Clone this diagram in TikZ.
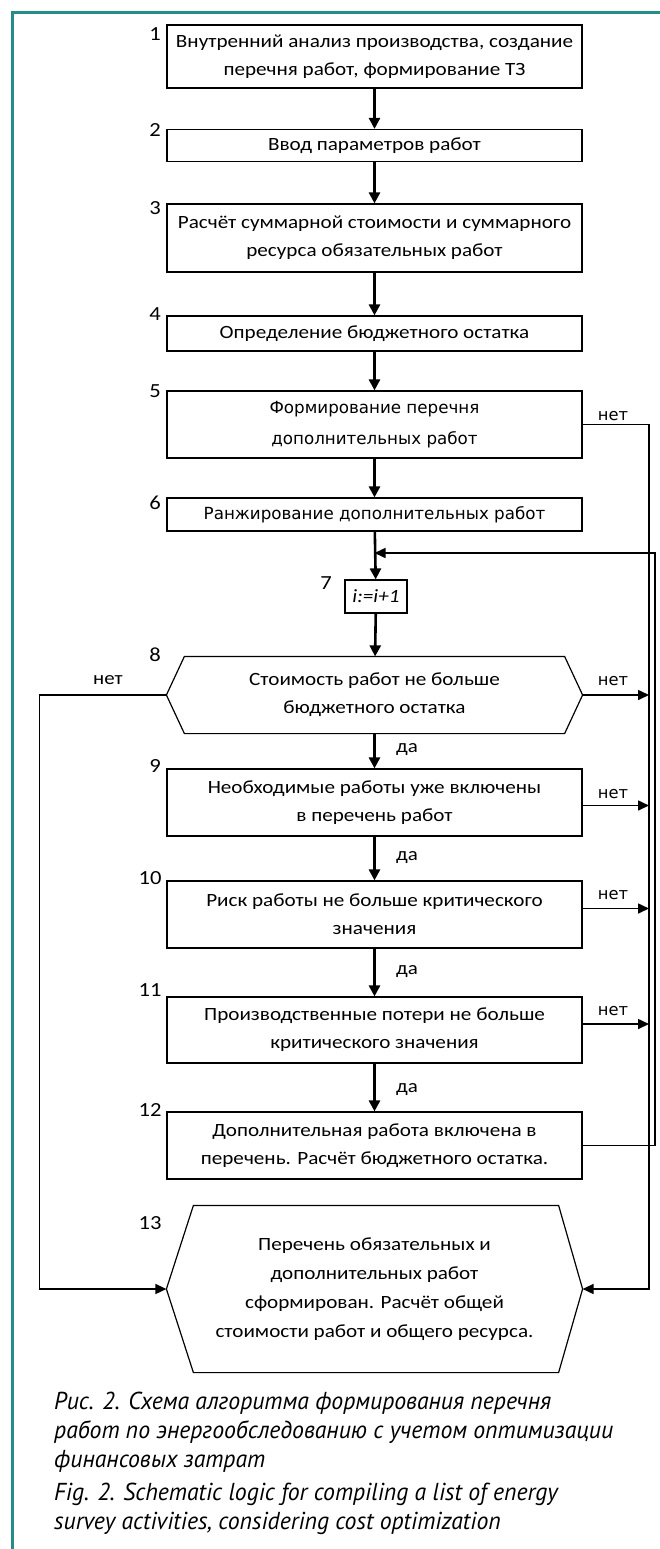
\documentclass[tikz,border=0pt]{standalone}
\usepackage{fontspec}
\setmainfont{Carlito}[FakeStretch=1.13]
\newfontfamily\dvs{DejaVu Sans}
\newfontfamily\capf{PT Sans}[FakeStretch=0.97]
\usetikzlibrary{arrows.meta}
\definecolor{teal1}{RGB}{38,140,135}
\begin{document}
\begin{tikzpicture}[x=1pt,y=-1pt,
  box/.style={draw,line width=1.2pt,inner sep=0pt,align=center,minimum width=415pt,font=\fontsize{18.7}{28}\selectfont},
  dbox/.style={box,font=\dvs\fontsize{16.7}{31}\selectfont},
  num/.style={font=\fontsize{20}{20}\selectfont,inner sep=0pt},
  arr/.style={line width=2.6pt,-{Triangle[length=11pt,width=11pt]}},
  tarr/.style={line width=1.6pt,-{Triangle[length=11pt,width=10pt]}},
  lab/.style={font=\fontsize{18.5}{20}\selectfont,inner sep=0pt},
  dlab/.style={font=\dvs\fontsize{16.3}{18}\selectfont,inner sep=0pt},
  hexl/.style={line width=1.2pt},
  captxt/.style={font=\capf\itshape\fontsize{24.5}{28}\selectfont,inner sep=0pt,anchor=mid west}]
\useasboundingbox (0,0) rectangle (660,1549);
\fill[white] (0,0) rectangle (660,1549);
\draw[teal1,line width=3pt] (12,1549) -- (12,13) -- (660,13);

% boxes
\node[box,minimum height=63pt] (b1) at (374.5,56.5) {Внутренний анализ производства, создание\\перечня работ, формирование ТЗ};
\node[box,minimum height=32pt] (b2) at (374.5,145.5) {Ввод параметров работ};
\node[box,minimum height=68pt] (b3) at (374.5,238) {Расчёт суммарной стоимости и суммарного\\ресурса обязательных работ};
\node[box,minimum height=35pt] (b4) at (374.5,333.5) {Определение бюджетного остатка};
\node[dbox,minimum height=67pt] (b5) at (374.5,424.5) {Формирование перечня\\дополнительных работ};
\node[dbox,minimum height=33pt] (b6) at (374.5,514.5) {Ранжирование дополнительных работ};
\node[box,minimum width=62pt,minimum height=33pt,font=\itshape\fontsize{18.7}{20}\selectfont] (b7) at (376,596.5) {i:=i+1};
\node[box,draw=none,minimum height=76pt] (h8) at (374.5,695) {Стоимость работ не больше\\бюджетного остатка};
\draw[hexl] ([xshift=18pt]h8.north west) -- ([xshift=-18pt]h8.north east) -- (h8.east) -- ([xshift=-18pt]h8.south east) -- ([xshift=18pt]h8.south west) -- (h8.west) -- cycle;
\node[box,minimum height=67pt] (b9) at (374.5,802.5) {Необходимые работы уже включены\\в перечень работ};
\node[box,minimum height=67pt] (b10) at (374.5,914.5) {Риск работы не больше критического\\значения};
\node[box,minimum height=66pt] (b11) at (374.5,1030) {Производственные потери не больше\\критического значения};
\node[box,minimum height=67pt] (b12) at (374.5,1145.5) {Дополнительная работа включена в\\перечень. Расчёт бюджетного остатка.};
\node[box,draw=none,minimum height=166pt,font=\fontsize{18.7}{29}\selectfont] (h13) at (374.5,1289) {Перечень обязательных и\\дополнительных работ\\сформирован. Расчёт общей\\стоимости работ и общего ресурса.};
\draw[hexl] ([xshift=27pt]h13.north west) -- ([xshift=-24pt]h13.north east) -- (h13.east) -- ([xshift=-24pt]h13.south east) -- ([xshift=27pt]h13.south west) -- (h13.west) -- cycle;

% numbers
\node[num] (n1) at (155,34) {1};
\node[num] (n2) at (155,130) {2};
\node[num] (n3) at (155,208) {3};
\node[num] (n4) at (155,314) {4};
\node[num] (n5) at (155,391) {5};
\node[num] (n6) at (155,503) {6};
\node[num] (n7) at (326,583) {7};
\node[num] (n8) at (155,655) {8};
\node[num] (n9) at (155,766) {9};
\node[num] (n10) at (150,878) {10};
\node[num] (n11) at (150,990) {11};
\node[num] (n12) at (150,1110) {12};
\node[num] (n13) at (150,1223) {13};

% main arrows
\draw[arr] (b1) -- (b2);
\draw[arr] (b2) -- (b3);
\draw[arr] (b3) -- (b4);
\draw[arr] (b4) -- (b5);
\draw[arr] (b5) -- (b6);
\draw[arr] (b6) -- (b7);
\draw[arr] (b7) -- (h8);
\draw[arr] (h8) -- (b9);
\draw[arr] (b9) -- (b10);
\draw[arr] (b10) -- (b11);
\draw[arr] (b11) -- (b12);

% side lines
\coordinate (rA) at (649,0);
\coordinate (rB) at (655,0);
\coordinate (lp) at (374.5,553);
\coordinate (e9) at ([yshift=-3pt]b9.east);
\coordinate (e10) at ([yshift=6pt]b10.east);
\coordinate (e11) at ([yshift=6pt]b11.east);
\draw[tarr] (b12.east) -| (rB |- lp) -- (lp);
\draw[tarr] (b5.east) -| (rA |- h13.east) -- (h13.east);
\draw[tarr] (h8.east) -- (rA |- h8.east);
\draw[tarr] (e9) -- (rA |- e9);
\draw[tarr] (e10) -- (rA |- e10);
\draw[tarr] (e11) -- (rA |- e11);
\draw[tarr] (h8.west) -- ++(-127,0) |- (h13.west);

% labels
\node[dlab] (l5) at (613,416) {нет};
\node[lab] (l8l) at (108,680) {нет};
\node[dlab] (l8r) at (613,681) {нет};
\node[dlab] (l9) at (613,794) {нет};
\node[dlab] (l10) at (613,895) {нет};
\node[dlab] (l11) at (613,1011) {нет};
\node[lab] (d8) at (407,750) {да};
\node[lab] (d9) at (407,858) {да};
\node[lab] (d10) at (407,972) {да};
\node[lab] (d11) at (407,1090) {да};

% caption
\node[captxt] (c1) at (54,1407) {Рис. 2. Схема алгоритма формирования перечня};
\node[captxt] (c2) at (54,1436) {работ по энергообследованию с учетом оптимизации};
\node[captxt] (c3) at (54,1465) {финансовых затрат};
\node[captxt] (c4) at (54,1498) {Fig. 2. Schematic logic for compiling a list of energy};
\node[captxt] (c5) at (54,1527) {survey activities, considering cost optimization};
\end{tikzpicture}
\end{document}
